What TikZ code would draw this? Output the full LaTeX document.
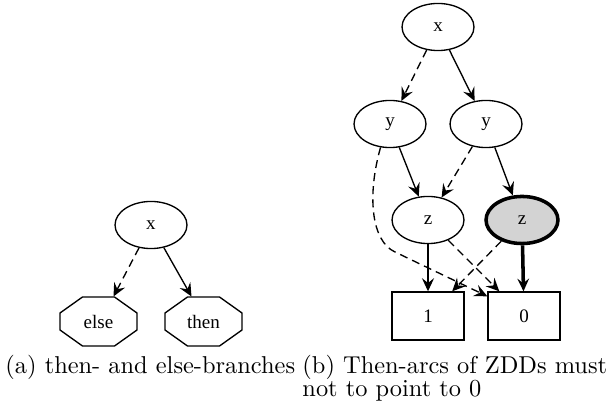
\documentclass[tikz,border=0pt]{standalone}
\usepackage{fontspec}
\newfontfamily\nodefont{Liberation Serif}
\usetikzlibrary{shapes.geometric,arrows.meta,calc}
\definecolor{zgray}{RGB}{211,211,211}
\newcommand\octoutline[1]{%
  \draw[line width=0.55pt] ($(#1)+(-16,-24.5)$) -- ($(#1)+(16,-24.5)$) -- ($(#1)+(38.5,-8.5)$) -- ($(#1)+(38.5,8.5)$) -- ($(#1)+(16,24.5)$) -- ($(#1)+(-16,24.5)$) -- ($(#1)+(-38.5,8.5)$) -- ($(#1)+(-38.5,-8.5)$) -- cycle;}
\begin{document}
\begin{tikzpicture}[x=0.41pt,y=-0.41pt,
  every node/.style={inner sep=0pt},
  lab/.style={font=\nodefont\fontsize{7.8pt}{9pt}\selectfont},
  oval/.style={lab,draw,ellipse,line width=0.55pt,minimum width=29.5pt,minimum height=19.3pt},
  termbox/.style={lab,draw,rectangle,line width=0.55pt,minimum width=29.5pt,minimum height=19.7pt},
  octa/.style={lab,rectangle,minimum width=31.6pt,minimum height=20.1pt},
  arcedge/.style={line width=0.55pt,-{Stealth[length=5.4pt,width=5pt,inset=2pt]}},
  elseedge/.style={arcedge,dash pattern=on 3.3pt off 2.1pt},
  boldedge/.style={line width=1.45pt,-{Stealth[length=5.2pt,width=4.8pt,inset=1.9pt]}},
  captext/.style={font=\fontsize{10pt}{12pt}\selectfont,anchor=base west}
]
\useasboundingbox (0,0) rectangle (614,410);
% (a)
\node[oval] (ax) at (151,225) {x};
\node[octa] (ael) at (98.5,321.5) {else};
\node[octa] (ath) at (203.5,321.5) {then};
\octoutline{ael}
\octoutline{ath}
\draw[elseedge] (ax) -- ($(ael.north)+(15,0)$);
\draw[arcedge] (ax) -- ($(ath.north)+(-12,0)$);
\node[captext] (capa) at (5,373) {(a) then- and else-branches};
% (b)
\node[oval] (bx) at (438,27) {x};
\node[oval] (byl) at (390,124) {y};
\node[oval] (byr) at (486,124) {y};
\node[oval] (bzl) at (428,220) {z};
\node[oval,fill=zgray,line width=1.45pt] (bzr) at (522,220) {z};
\node[termbox] (one) at (428,316) {1};
\node[termbox] (zero) at (524,316) {0};
\draw[elseedge] (bx) -- (byl);
\draw[arcedge] (bx) -- (byr);
\draw[arcedge] (byl) -- (bzl);
\draw[elseedge] (byl.-112) .. controls (367,195) and (371,241) .. (395,252) -- ($(zero.north west)+(0,5)$);
\draw[elseedge] (byr) -- (bzl);
\draw[arcedge] (byr) -- (bzr);
\draw[arcedge] (bzl) -- (one);
\draw[elseedge] (bzl) -- (zero);
\draw[elseedge] (bzr) -- (one);
\draw[boldedge] (bzr) -- (zero);
\node[captext] (capb1) at (302,373) {(b) Then-arcs of ZDDs must};
\node[captext] (capb2) at (302,397) {not to point to 0};
\end{tikzpicture}
\end{document}
